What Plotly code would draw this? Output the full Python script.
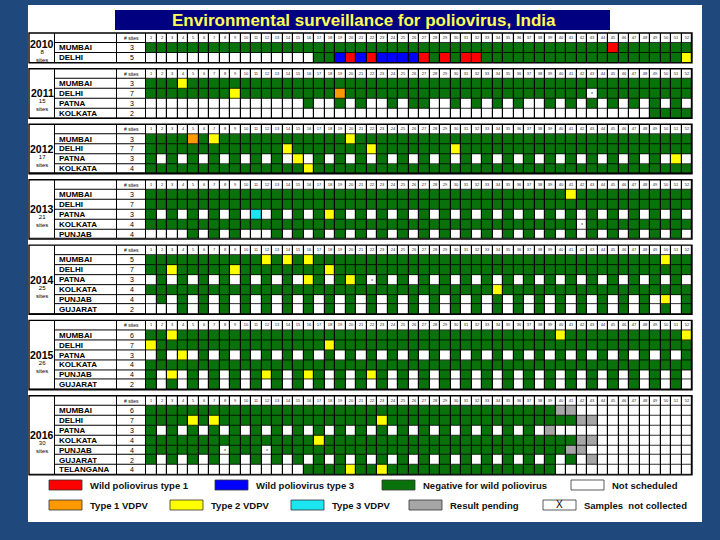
import plotly.graph_objects as go

# ---------------- data ----------------
WEEKS = list(range(1, 53))
YEARS = ["2010", "2011", "2012", "2013", "2014", "2015", "2016"]
YEAR_TOTAL_SITES = [8, 15, 17, 21, 25, 26, 30]

# status codes per week:  . not scheduled, g negative, R WPV1, B WPV3,
# O VDPV1, Y VDPV2, C VDPV3, P result pending, X samples not collected
CITIES_2010 = ["MUMBAI", "DELHI"]
SITES_2010 = [3, 5]
STATUS_2010 = [
    "gggggggggg gggggggggg gggggggggg gggggggggg ggggRggggg gg",
    ".......... ......ggBR BRBBBBRgRg RRgggggggg gggggggggg gY",
]

CITIES_2011 = ["MUMBAI", "DELHI", "PATNA", "KOLKATA"]
SITES_2011 = [3, 7, 3, 2]
STATUS_2011 = [
    "gggYgggggg gggggggggg gggggggggg gggggggggg gggggggggg gg",
    "ggggggggYg ggggggggOg gggggggggg gggggggggg ggXggggggg gg",
    ".......... .....g..g. g..g.gg..g .g.g.g..g. g.g.g.g.g. g.",
    ".......... .......... .......... .......... ........gg gg",
]

CITIES_2012 = ["MUMBAI", "DELHI", "PATNA", "KOLKATA"]
SITES_2012 = [3, 7, 3, 4]
STATUS_2012 = [
    "ggggOgYggg gggggggggY gggggggggg gggggggggg gggggggggg gg",
    "gggggggggg gggYgggggg gYgggggggY gggggggggg gggggggggg gg",
    "g.g.g.g.g. g.g.Y.g.g. g.g.g.g.g. g.g.g.g.g. g.g.g.g.g. Y.",
    "gggggggggg gggggYgggg gggggggggg gggggggggg gggggggggg gg",
]

CITIES_2013 = ["MUMBAI", "DELHI", "PATNA", "KOLKATA", "PUNJAB"]
SITES_2013 = [3, 7, 3, 4, 4]
STATUS_2013 = [
    "gggggggggg gggggggggg gggggggggg gggggggggg Yggggggggg gg",
    "gggggggggg gggggggggg gggggggggg gggggggggg gggggggggg gg",
    "g.g.g.g.g. C.g.g.gYg. g.g.g.g.g. g.g.g.g.g. g.g.g.g.g. g.",
    "gggggggggg gggggggggg gggggggggg gggggggggg gXgggggggg gg",
    "....g.g.g. ..g.g.g.g. g.g.g.g.g. g.g.g.g.g. g.g.g.g.g. g.",
]

CITIES_2014 = ["MUMBAI", "DELHI", "PATNA", "KOLKATA", "PUNJAB", "GUJARAT"]
SITES_2014 = [5, 7, 3, 4, 4, 2]
STATUS_2014 = [
    "gggggggggg gYgYgYgggg gggggggggg gggggggggg gggggggggY gg",
    "ggYgggggYg gggggggYgg gggggggggg gggggggggg gggggggggg gg",
    ".g.g.g.g.g .g.g.Yg.gY gXg.g.g.g. g.g.g.g.g. g.g.g.g.g. g.",
    "gggggggggg gggggggggg gggggggggg gggYgggggg gggggggggg gg",
    ".g.g.g.g.g .g.g.g.g.g .g.g.g.g.g .g.g.g.g.g .g.g.g.g.Y .g",
    "...g.g.g.g .g.g.g.g.g .g.g.g.g.g .g.g.g.g.g .g.g.g.g.g .g",
]

CITIES_2015 = ["MUMBAI", "DELHI", "PATNA", "KOLKATA", "PUNJAB", "GUJARAT"]
SITES_2015 = [6, 7, 3, 4, 4, 2]
STATUS_2015 = [
    "ggYggggggg gggggggggg gggggggggg gggggggggY gggggggggg gY",
    "Yggggggggg gggggggYgg gggggggggg gggggggggg gggggggggg gg",
    ".g.Y.g.g.g .g.g.g.g.g .g.g.g.g.g .g.g.g.g.g .g.g.g.g.g .g",
    "gggggggggg gggggggggg gggggggggg gggggggggg gggggggggg gg",
    "g.Y.g.g.g. gYg.gYg.g. gYg.g.g.g. g.g.g.g.g. g.g.g.g.g. g.",
    "g.g.g.g.g. g.g.g.g.g. g.g.g.g.g. g.g.g.g.g. g.g.g.g.g. g.",
]

CITIES_2016 = ["MUMBAI", "DELHI", "PATNA", "KOLKATA", "PUNJAB", "GUJARAT", "TELANGANA"]
SITES_2016 = [6, 7, 3, 4, 4, 2, 4]
STATUS_2016 = [
    "gggggggggg gggggggggg gggggggggg gggggggggP P......... ..",
    "ggggYgYggg gggggggggg ggYggggggg gggggggggg gPP....... ..",
    "g.g.g.g.g. g.g.g.g.g. g.g.g.g.g. g.g.g.g.P. .......... ..",
    "gggggggggg ggggggYggg gggggggggg gggggggggg gPP....... ..",
    "gggggggXgg gXgggggggg gggggggggg gggggggggg PP........ ..",
    "g.g.g.g.g. g.g.g.g.g. g.g.g.g.g. g.g.g.g.g. g.P....... ..",
    ".......... .....ggggY ggYggggggg ggggggggg. .......... ..",
]

CITIES = [CITIES_2010, CITIES_2011, CITIES_2012, CITIES_2013, CITIES_2014, CITIES_2015, CITIES_2016]
SITES = [SITES_2010, SITES_2011, SITES_2012, SITES_2013, SITES_2014, SITES_2015, SITES_2016]
STATUS = [STATUS_2010, STATUS_2011, STATUS_2012, STATUS_2013, STATUS_2014, STATUS_2015, STATUS_2016]

LEGEND_LABELS = ["Wild poliovirus type 1", "Wild poliovirus type 3", "Negative for wild poliovirus",
                 "Not scheduled", "Type 1 VDPV", "Type 2 VDPV", "Type 3 VDPV", "Result pending",
                 "Samples  not collected"]
LEGEND_CODES = ["R", "B", "g", ".", "O", "Y", "C", "P", "X"]

# ---------------- styling ----------------
CODE = {".": 0, "g": 1, "R": 2, "B": 3, "O": 4, "Y": 5, "C": 6, "P": 7, "X": 8}
COLORS = ["#FFFFFF", "#0A720A", "#FF0000", "#0000FF", "#FF9900", "#FFFF00", "#19E6F0", "#A6A6A6", "#FFFFFF"]
NC = len(COLORS)
cscale = []
for i, c in enumerate(COLORS):
    cscale += [[i / NC, c], [(i + 1) / NC, c]]

FONT = "Liberation Sans, Arial, sans-serif"
BG_BLUE = "#1F497D"


def px2x(p):
    return 0.5 + (p - 146.0) / 10.5


X_YEAR_L, X_CITY_L, X_SITE_L, X_SITE_R = px2x(29), px2x(55), px2x(117), 0.5
X_WEEK_R = 52.5

TOP0, ROW_H, GAP = 33.0, 9.9, 6.0

fig = go.Figure()
annotations = []
shapes = []

y0 = TOP0
for yi, year in enumerate(YEARS):
    cities, sites, status = CITIES[yi], SITES[yi], STATUS[yi]
    nrows = len(cities) + 1
    yedges = [y0 + i * ROW_H for i in range(nrows + 1)]
    top, bot = yedges[0], yedges[-1]

    # black underlay (shows through the gaps as grid lines)
    fig.add_trace(go.Heatmap(z=[[0]], x=[X_YEAR_L, X_WEEK_R], y=[top, bot],
                             colorscale=[[0, "black"], [1, "black"]], showscale=False,
                             hoverinfo="skip"))
    # year cell
    fig.add_trace(go.Heatmap(z=[[0]], x=[X_YEAR_L, X_CITY_L], y=[top, bot],
                             colorscale=[[0, "white"], [1, "white"]], showscale=False,
                             xgap=1, ygap=1, hoverinfo="skip"))
    # city / site label cells
    fig.add_trace(go.Heatmap(z=[[0, 0] for _ in range(nrows)], x=[X_CITY_L, X_SITE_L, X_SITE_R],
                             y=yedges, colorscale=[[0, "white"], [1, "white"]], showscale=False,
                             xgap=1, ygap=1, hoverinfo="skip"))
    # weekly status cells
    z = [[0] * len(WEEKS)]
    txt = [[str(w) for w in WEEKS]]
    for row in status:
        r = row.replace(" ", "")
        assert len(r) == 52, (year, row)
        z.append([CODE[ch] for ch in r])
        txt.append(["x" if ch == "X" else "" for ch in r])
    fig.add_trace(go.Heatmap(z=z, x=[w - 0.5 for w in WEEKS] + [X_WEEK_R], y=yedges,
                             colorscale=cscale, zmin=-0.5, zmax=NC - 0.5, showscale=False,
                             xgap=1.2, ygap=0.8, text=txt, texttemplate="%{text}",
                             textfont=dict(size=4, color="#222222", family=FONT),
                             hoverinfo="skip"))
    shapes.append(dict(type="rect", xref="x", yref="y", x0=X_YEAR_L, x1=X_WEEK_R, y0=top, y1=bot,
                       line=dict(color="black", width=1.4), fillcolor="rgba(0,0,0,0)"))

    # labels
    cx_site = (X_SITE_L + X_SITE_R) / 2
    annotations.append(dict(x=cx_site, y=(yedges[0] + yedges[1]) / 2, text="# sites",
                            showarrow=False, font=dict(size=5, color="black", family=FONT)))
    for i, (c, s) in enumerate(zip(cities, sites)):
        yc = (yedges[i + 1] + yedges[i + 2]) / 2
        annotations.append(dict(x=px2x(57), y=yc, text="<b>%s</b>" % c, xanchor="left",
                                height=9, valign="middle",
                                showarrow=False, font=dict(size=8, color="black", family=FONT)))
        annotations.append(dict(x=cx_site, y=yc, text=str(s), showarrow=False, height=9,
                                font=dict(size=7, color="black", family=FONT)))
    h = bot - top
    frac = 0.37 if len(cities) == 2 else 0.5
    yy = top + frac * h
    cx_year = (X_YEAR_L + X_CITY_L) / 2
    annotations.append(dict(x=cx_year, y=yy, text="<b>%s</b>" % year, showarrow=False,
                            font=dict(size=10.5, color="black", family=FONT)))
    annotations.append(dict(x=cx_year, y=yy + 12, text="%d<br>sites" % YEAR_TOTAL_SITES[yi],
                            showarrow=False, font=dict(size=6, color="black", family=FONT)))
    y0 = bot + GAP

# title box
shapes.append(dict(type="rect", xref="x", yref="y", x0=px2x(115), x1=px2x(610), y0=10, y1=30,
                   fillcolor="#000080", line=dict(width=0)))
annotations.append(dict(x=px2x(364), y=20, text="<b>Environmental surveillance for poliovirus, India</b>",
                        showarrow=False, font=dict(size=17, color="#FFFF55", family=FONT)))

# legend
LEG_SWATCH_PX = [49, 215, 382, 571, 49, 170, 291, 409, 543]
LEG_ROW_Y = [485, 485, 485, 485, 505, 505, 505, 505, 505]
for lab, code, sx, sy in zip(LEGEND_LABELS, LEGEND_CODES, LEG_SWATCH_PX, LEG_ROW_Y):
    col = COLORS[CODE[code]]
    shapes.append(dict(type="rect", xref="x", yref="y", x0=px2x(sx), x1=px2x(sx + 33),
                       y0=sy - 5, y1=sy + 5, fillcolor=col,
                       line=dict(color="#333333", width=0.8)))
    if code == "X":
        annotations.append(dict(x=px2x(sx + 16.5), y=sy - 1, text="X", showarrow=False,
                                font=dict(size=10, color="black", family=FONT)))
    annotations.append(dict(x=px2x(sx + 39), y=sy, text="<b>%s</b>" % lab, xanchor="left", showarrow=False,
                            font=dict(size=9.5, color="#111111", family=FONT)))

fig.update_layout(
    width=720, height=540, autosize=False,
    margin=dict(l=28, r=18, t=5, b=18, pad=0),
    paper_bgcolor=BG_BLUE, plot_bgcolor="white",
    showlegend=False,
    xaxis=dict(range=[px2x(28), px2x(702)], visible=False, fixedrange=True),
    yaxis=dict(range=[522, 5], visible=False, fixedrange=True),
    shapes=shapes, annotations=annotations,
)

fig.write_html("out.html", config={"displayModeBar": False},
               post_script="document.body.style.margin='0px';document.body.style.padding='0px';")
